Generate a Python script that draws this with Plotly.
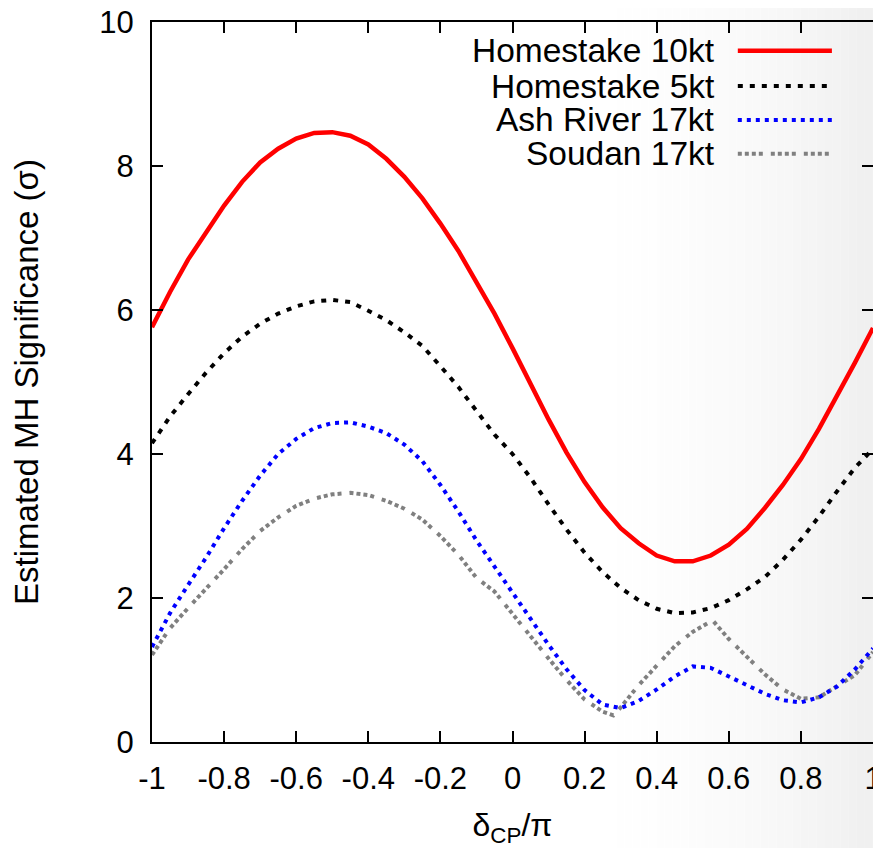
import plotly.graph_objects as go

# ---- data ----
x_grid = [-1.0, -0.95, -0.9, -0.85, -0.8, -0.75, -0.7, -0.65, -0.6, -0.55, -0.5,
          -0.45, -0.4, -0.35, -0.3, -0.25, -0.2, -0.15, -0.1, -0.05, 0.0,
          0.05, 0.1, 0.15, 0.2, 0.25, 0.3, 0.35, 0.4, 0.45, 0.5,
          0.55, 0.6, 0.65, 0.7, 0.75, 0.8, 0.85, 0.9, 0.95, 1.0]

homestake_10kt = [5.76, 6.25, 6.70, 7.08, 7.45, 7.78, 8.05, 8.24, 8.38, 8.46, 8.47,
                  8.42, 8.30, 8.10, 7.85, 7.55, 7.20, 6.82, 6.40, 5.95, 5.47,
                  4.97, 4.48, 4.02, 3.61, 3.26, 2.97, 2.76, 2.59, 2.51, 2.51,
                  2.59, 2.74, 2.96, 3.25, 3.57, 3.93, 4.35, 4.80, 5.27, 5.75]

homestake_5kt = [4.15, 4.52, 4.83, 5.13, 5.40, 5.63, 5.81, 5.95, 6.05, 6.12, 6.14,
                 6.11, 5.99, 5.86, 5.69, 5.50, 5.22, 4.93, 4.60, 4.27, 4.00,
                 3.67, 3.30, 2.95, 2.63, 2.36, 2.14, 1.97, 1.85, 1.79, 1.80,
                 1.86, 1.97, 2.12, 2.29, 2.53, 2.81, 3.13, 3.48, 3.81, 4.07]

ash_river_17kt = [1.32, 1.79, 2.18, 2.56, 2.97, 3.35, 3.70, 4.00, 4.21, 4.36, 4.43,
                  4.44, 4.38, 4.29, 4.13, 3.90, 3.57, 3.20, 2.80, 2.44, 2.07,
                  1.70, 1.35, 1.01, 0.72, 0.52, 0.47, 0.57, 0.73, 0.91, 1.05,
                  1.03, 0.91, 0.79, 0.67, 0.58, 0.55, 0.62, 0.77, 1.01, 1.30]

x_soudan = [-1.0, -0.95, -0.9, -0.85, -0.8, -0.75, -0.7, -0.65, -0.6, -0.55, -0.5,
            -0.45, -0.4, -0.35, -0.3, -0.25, -0.2, -0.15, -0.1, -0.05, 0.0,
            0.05, 0.1, 0.15, 0.2, 0.25, 0.28, 0.3, 0.35, 0.4, 0.45, 0.5,
            0.555, 0.6, 0.65, 0.7, 0.75, 0.8, 0.85, 0.9, 0.95, 1.0]
soudan_17kt = [1.21, 1.58, 1.86, 2.12, 2.40, 2.68, 2.93, 3.12, 3.28, 3.38, 3.44,
               3.46, 3.43, 3.35, 3.24, 3.09, 2.86, 2.60, 2.28, 2.09, 1.79,
               1.47, 1.16, 0.86, 0.59, 0.42, 0.37, 0.48, 0.79, 1.05, 1.33, 1.53,
               1.69, 1.43, 1.18, 0.94, 0.73, 0.60, 0.62, 0.77, 0.93, 1.25]

labels = ["Homestake 10kt", "Homestake 5kt", "Ash River 17kt", "Soudan 17kt"]
colors = ["#ff0000", "#000000", "#0000ff", "#808080"]
dashes = ["solid", "5px,7px", "4px,5px", "4px,3px,4px,3px,4px,3px,4px,8px"]
widths = [4.5, 4, 4, 4]

x_ticks = [-1, -0.8, -0.6, -0.4, -0.2, 0, 0.2, 0.4, 0.6, 0.8, 1]
x_tick_text = ["-1", "-0.8", "-0.6", "-0.4", "-0.2", "0", "0.2", "0.4", "0.6", "0.8", "1"]
y_ticks = [0, 2, 4, 6, 8, 10]

FONT = "Liberation Sans, Arial, Helvetica, sans-serif"

# the page adds an 8px body margin, so the figure is drawn 8px right/down
W, H = 873, 840
ML, MR, MT, MB = 144, 8, 14, 106
PW, PH = W - ML - MR, H - MT - MB

fig = go.Figure()
series = [(x_grid, homestake_10kt), (x_grid, homestake_5kt),
          (x_grid, ash_river_17kt), (x_soudan, soudan_17kt)]
for i in [3, 2, 1, 0]:
    xs, ys = series[i]
    fig.add_trace(go.Scatter(x=xs, y=ys, mode="lines", name=labels[i],
                             line=dict(color=colors[i], width=widths[i], dash=dashes[i]),
                             showlegend=False))

shapes = []
annotations = []

# soft grey shading toward the right edge (page background)
N = 40
px0, px1 = 560.0, 881.0
for k in range(N):
    a0 = px0 + (px1 - px0) * k / N
    a1 = px0 + (px1 - px0) * (k + 1) / N
    t = (k + 0.5) / N
    shapes.append(dict(type="rect", xref="paper", yref="paper", layer="below",
                       x0=(a0 - 8 - ML) / PW, x1=(a1 - 8 - ML) / PW,
                       y0=-MB / PH, y1=1 + MT / PH,
                       line=dict(width=0), fillcolor="rgba(0,0,0,%.4f)" % (0.065 * t ** 2)))

# custom legend: text right-aligned, sample line to the right
leg_y = [9.60, 9.11, 8.64, 8.17]
for i in range(4):
    annotations.append(dict(x=0.567, y=leg_y[i], xref="x", yref="y", text=labels[i],
                            showarrow=False, xanchor="right", yanchor="middle",
                            font=dict(family=FONT, size=33.5, color="black")))
    shapes.append(dict(type="line", xref="x", yref="y", x0=0.625, x1=0.886,
                       y0=leg_y[i], y1=leg_y[i],
                       line=dict(color=colors[i], width=widths[i], dash=dashes[i])))

fig.update_layout(
    width=W, height=H,
    margin=dict(l=ML, r=MR, t=MT, b=MB, autoexpand=False),
    paper_bgcolor="white", plot_bgcolor="rgba(0,0,0,0)",
    font=dict(family=FONT, size=31, color="black"),
    shapes=shapes, annotations=annotations,
    xaxis=dict(range=[-1, 1], tickvals=x_ticks, ticktext=x_tick_text,
               ticks="inside", ticklen=11, tickwidth=2, tickcolor="black",
               showline=True, linewidth=2, linecolor="black", mirror="allticks",
               showgrid=False, zeroline=False, ticklabelstandoff=8,
               ticklabeloverflow="allow",
               tickfont=dict(family=FONT, size=31),
               title=dict(text="δ<sub>CP</sub>/π", font=dict(family=FONT, size=32), standoff=26)),
    yaxis=dict(range=[0, 10], tickvals=y_ticks,
               ticks="inside", ticklen=11, tickwidth=2, tickcolor="black",
               showline=True, linewidth=2, linecolor="black", mirror="allticks",
               showgrid=False, zeroline=False, ticklabelstandoff=10,
               ticklabeloverflow="allow",
               tickfont=dict(family=FONT, size=31),
               title=dict(text="Estimated MH Significance (σ)", font=dict(family=FONT, size=33), standoff=62)),
)

fig.write_html("out.html")
